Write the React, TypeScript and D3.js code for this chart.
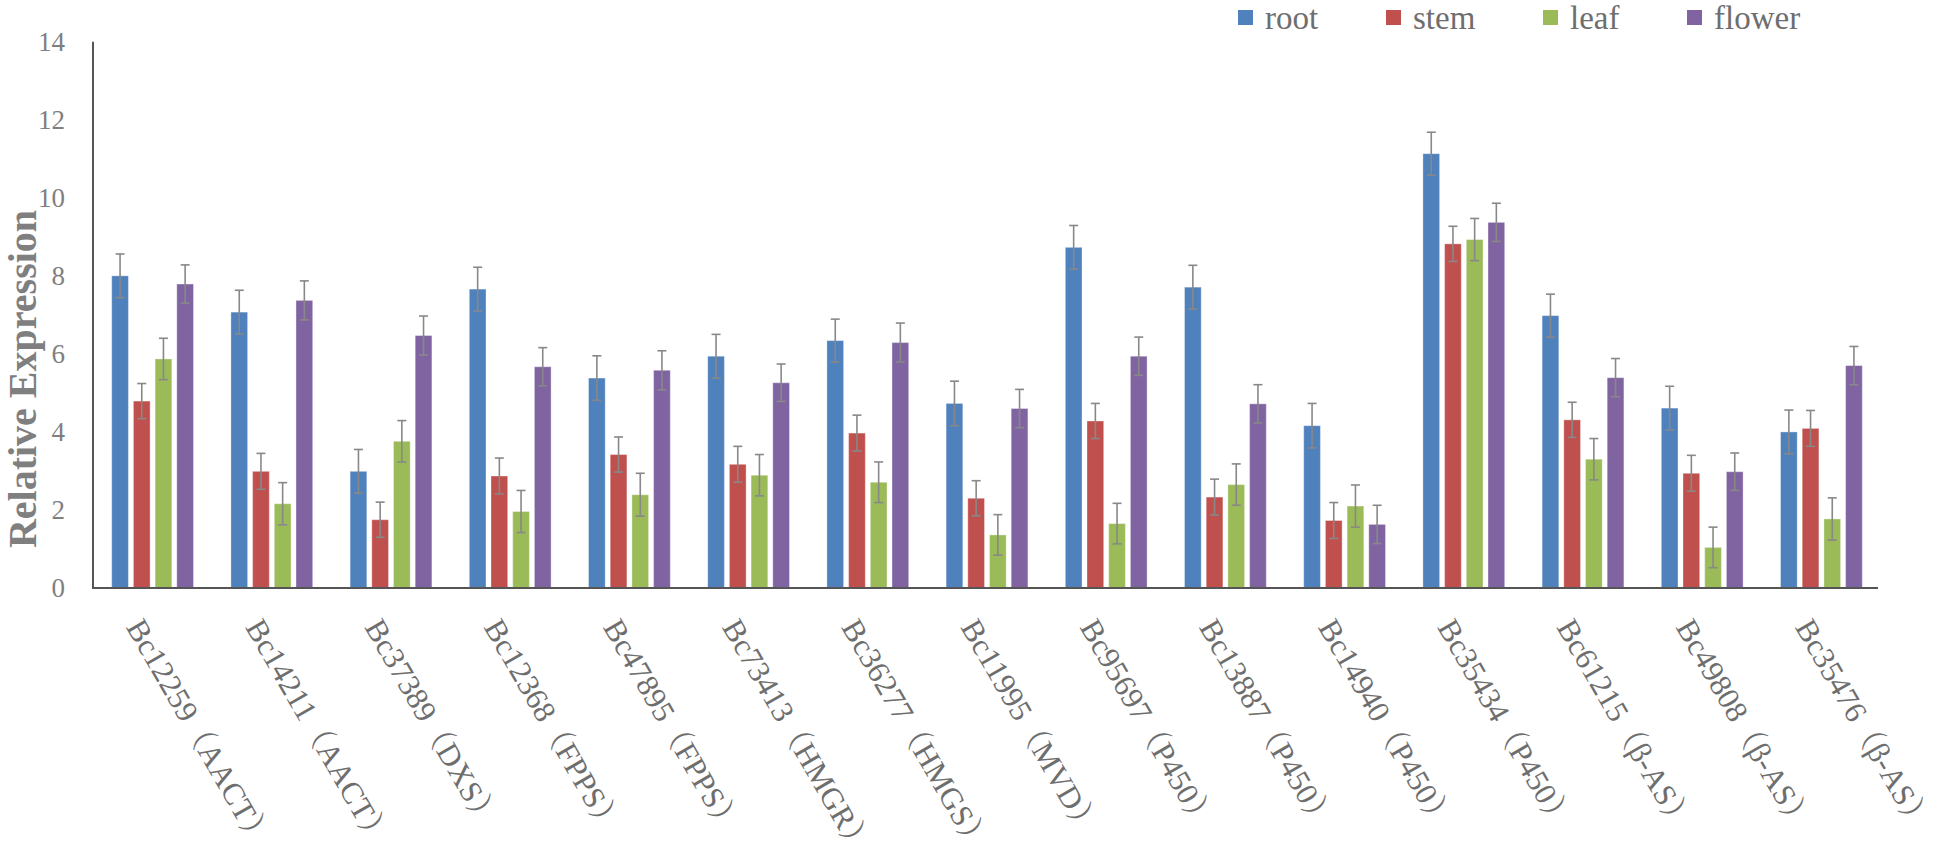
import React from "react";
import * as d3 from "d3";

const categories = [
  "Bc12259（AACT）", "Bc14211（AACT）", "Bc37389（DXS）", "Bc12368（FPPS）", "Bc47895（FPPS）",
  "Bc73413（HMGR）", "Bc36277（HMGS）", "Bc11995（MVD）", "Bc95697（P450）", "Bc13887（P450）",
  "Bc14940（P450）", "Bc35434（P450）", "Bc61215（β-AS）", "Bc49808（β-AS）", "Bc35476（β-AS）",
];
const seriesNames = ["root", "stem", "leaf", "flower"];
const rootValues = [8.0, 7.07, 2.99, 7.66, 5.38, 5.94, 6.34, 4.73, 8.73, 7.71, 4.16, 11.13, 6.98, 4.61, 4.0];
const stemValues = [4.79, 2.99, 1.75, 2.87, 3.42, 3.17, 3.97, 2.3, 4.28, 2.33, 1.73, 8.82, 4.31, 2.94, 4.09];
const leafValues = [5.87, 2.16, 3.76, 1.96, 2.39, 2.89, 2.71, 1.36, 1.65, 2.65, 2.1, 8.93, 3.3, 1.04, 1.77];
const flowerValues = [7.79, 7.37, 6.47, 5.67, 5.58, 5.26, 6.29, 4.6, 5.94, 4.72, 1.63, 9.37, 5.39, 2.98, 5.7];
const rootErr = [0.56, 0.56, 0.56, 0.56, 0.57, 0.56, 0.55, 0.57, 0.56, 0.56, 0.57, 0.55, 0.55, 0.56, 0.56];
const stemErr = [0.45, 0.46, 0.45, 0.46, 0.45, 0.46, 0.46, 0.45, 0.45, 0.46, 0.46, 0.45, 0.45, 0.46, 0.46];
const leafErr = [0.53, 0.54, 0.53, 0.54, 0.55, 0.53, 0.52, 0.52, 0.52, 0.53, 0.54, 0.54, 0.53, 0.52, 0.54];
const flowerErr = [0.49, 0.5, 0.5, 0.49, 0.5, 0.48, 0.5, 0.49, 0.49, 0.49, 0.49, 0.49, 0.49, 0.48, 0.49];
const yTicks = [0, 2, 4, 6, 8, 10, 12, 14];
const colors = ["#4F81BD", "#C0504D", "#9BBB59", "#8064A2"];

const seriesValues = [rootValues, stemValues, leafValues, flowerValues];
const seriesErr = [rootErr, stemErr, leafErr, flowerErr];

const W = 1946;
const H = 862;
const serif = "Liberation Serif, Tinos, Times New Roman, DejaVu Serif, Noto Serif CJK SC, Noto Sans CJK SC, serif";

export default function App() {
  const x0 = d3.scaleBand<string>().domain(categories).range([93, 93 + 15 * 119.2]).paddingInner(0.272).paddingOuter(0.136);
  const x1 = d3.scaleBand<string>().domain(seriesNames).range([0, x0.bandwidth()]).paddingInner(0.23).paddingOuter(0.115);
  const y = d3.scaleLinear().domain([0, 14]).range([588, 41.7]);

  const legendX = [1238, 1386, 1543, 1687];

  return (
    <svg width={W} height={H} style={{ position: "absolute", left: 0, top: 0, background: "#fff" }}>
      {categories.map((c, i) => (
        <g key={c} transform={`translate(${x0(c)},0)`}>
          {seriesNames.map((s, k) => {
            const v = seriesValues[k][i];
            const e = seriesErr[k][i];
            const bx = x1(s)!;
            const cx = bx + x1.bandwidth() / 2;
            return (
              <g key={s}>
                <rect x={bx} y={y(v)} width={x1.bandwidth()} height={y(0) - y(v)} fill={colors[k]} stroke="rgba(255,255,255,0.35)" strokeWidth={1} />
                <g stroke="#888" strokeWidth={1.6}>
                  <line x1={cx} x2={cx} y1={y(v + e)} y2={y(v - e)} />
                  <line x1={cx - 4.5} x2={cx + 4.5} y1={y(v + e)} y2={y(v + e)} />
                  <line x1={cx - 4.5} x2={cx + 4.5} y1={y(v - e)} y2={y(v - e)} />
                </g>
              </g>
            );
          })}
        </g>
      ))}
      <line x1={93} x2={93} y1={y(14)} y2={y(0)} stroke="#555" strokeWidth={2} />
      <line x1={92} x2={1878} y1={y(0)} y2={y(0)} stroke="#555" strokeWidth={2} />
      {yTicks.map((t) => (
        <text key={t} x={65} y={y(t)} dy="0.35em" textAnchor="end" style={{ fontFamily: serif }} fontSize={27} fill="#7f7f7f">
          {t}
        </text>
      ))}
      <text transform={`translate(36,379) rotate(-90)`} textAnchor="middle" style={{ fontFamily: serif }} fontWeight="bold" fontSize={40} fill="#7f7f7f">
        Relative Expression
      </text>
      {categories.map((c) => (
        <text key={c} transform={`translate(${x0(c)! + x0.bandwidth() / 2 - 27},627) rotate(60)`} style={{ fontFamily: serif }} fontSize={31} fill="#6e6e6e">
          {c}
        </text>
      ))}
      {seriesNames.map((s, k) => (
        <g key={s}>
          <rect x={legendX[k]} y={10} width={15} height={15} fill={colors[k]} />
          <text x={legendX[k] + 27} y={29} style={{ fontFamily: serif }} fontSize={33} fill="#6e6e6e">
            {s}
          </text>
        </g>
      ))}
    </svg>
  );
}
